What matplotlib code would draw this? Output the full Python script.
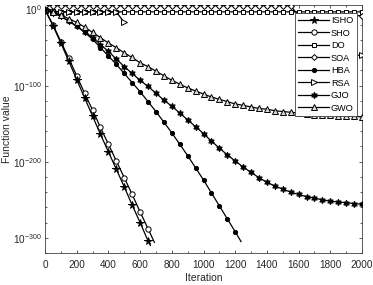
import numpy as np
import matplotlib
matplotlib.use("Agg")
import matplotlib.pyplot as plt

plt.rcParams['font.family'] = ['Liberation Sans', 'DejaVu Sans']
plt.rcParams['mathtext.fontset'] = 'custom'
plt.rcParams['mathtext.rm'] = 'Liberation Sans'
plt.rcParams['mathtext.it'] = 'Liberation Sans:italic'
plt.rcParams['mathtext.bf'] = 'Liberation Sans:bold'

# iterations (every 50) and log10 of the function value
it50 = list(range(0, 2001, 50))

isho_it = list(range(0, 651, 50)) + [665]
isho_exp = [0, -21, -44, -68, -92, -116, -140, -164, -187, -210, -233, -257, -280, -304, -310]

sho_it = list(range(0, 651, 50)) + [690]
sho_exp = [0, -20, -42, -64, -87, -110, -132, -155, -177, -199, -221, -243, -266, -288, -306]

hba_it = list(range(0, 1201, 50)) + [1237]
hba_exp = [0, -4, -9, -15, -22, -30, -39, -50, -61, -72, -84, -96, -108, -121, -134,
           -148, -162, -177, -192, -208, -224, -241, -258, -275, -292, -305]

gjo_exp = [0, -4, -9, -15, -22, -29, -37, -46, -55, -65, -75, -84, -93, -101, -110,
           -119, -127, -136, -145, -154, -163, -173, -182, -191, -199, -207, -214, -221,
           -227, -232, -236, -240, -243, -246, -248, -250, -252, -253, -254, -255, -256]

gwo_exp = [0, -3, -7, -12, -17, -23, -30, -37, -44, -50, -57, -63, -70, -75, -81,
           -87, -93, -98, -103, -107, -111, -115, -118, -121, -124, -126, -128, -130,
           -131, -133, -134, -135, -136, -137, -138, -138.5, -139, -139.5, -140, -140.5, -141]

soa_exp = [5] * 32 + [-8] * 9
do_exp = [3, -2] + [-3] * 39
rsa_exp = [-3] * 10 + [-17] + [np.nan] * 27 + [-60, -60, -60]

labels = ['ISHO', 'SHO', 'DO', 'SOA', 'HBA', 'RSA', 'GJO', 'GWO']

fig = plt.figure(figsize=(3.73, 2.85), dpi=100)
ax = fig.add_axes([45/373, 32/285, 317/373, 248/285])

def pw(e):
    return 10.0 ** np.asarray(e, dtype=float)

lw = 0.9
mew = 0.7
ax.semilogy(isho_it, pw(isho_exp), '-', color='k', lw=lw, marker='*', ms=5.5, mfc='k', mec='k', mew=mew,
            markevery=list(range(len(isho_it) - 1)), label=labels[0], zorder=5)
ax.semilogy(sho_it, pw(sho_exp), '-', color='k', lw=lw, marker='o', ms=3.8, mfc='white', mec='k', mew=mew,
            markevery=list(range(len(sho_it) - 1)), label=labels[1], zorder=4)
ax.semilogy(it50, pw(do_exp), '-', color='k', lw=lw, marker='s', ms=3.3, mfc='white', mec='k', mew=mew,
            label=labels[2], zorder=3)
ax.semilogy(it50, pw(soa_exp), '-', color='k', lw=lw, marker='D', ms=3.0, mfc='white', mec='k', mew=mew,
            label=labels[3], zorder=3)
ax.semilogy(hba_it, pw(hba_exp), '-', color='k', lw=lw, marker='o', ms=3.0, mfc='k', mec='k', mew=mew,
            markevery=list(range(len(hba_it) - 1)), label=labels[4], zorder=3)
ax.semilogy(it50, pw(rsa_exp), '-', color='k', lw=lw, marker='>', ms=4.2, mfc='white', mec='k', mew=mew,
            label=labels[5], zorder=3)
ax.semilogy(it50, pw(gjo_exp), '-', color='k', lw=lw, marker=(6, 1, 0), ms=4.6, mfc='k', mec='k', mew=mew,
            label=labels[6], zorder=3)
ax.semilogy(it50, pw(gwo_exp), '-', color='k', lw=lw, marker='^', ms=4.2, mfc='#d9d9d9', mec='k', mew=mew,
            label=labels[7], zorder=3)

ax.set_xlim(0, 2000)
ax.set_ylim(1e-320, 1e6)
ax.set_xticks(range(0, 2001, 200))
ax.set_xticklabels([str(v) for v in range(0, 2001, 200)])
major = [0, -100, -200, -300]
ax.set_yticks([10.0 ** e for e in major])
ax.set_yticklabels(['$\\mathregular{10^{%d}}$' % e for e in major])
ax.set_yticks([10.0 ** e for e in range(-320, 1, 20) if e not in major], minor=True)
ax.set_yticklabels([], minor=True)
ax.set_xticks(range(0, 2001, 100), minor=True)
ax.tick_params(axis='both', which='both', direction='in', top=True, right=True,
               labelsize=7.2, labelcolor='#262626', color='#404040', length=2.5, width=0.6)
ax.tick_params(axis='both', which='minor', length=1.5)
ax.tick_params(axis='y', pad=2)
ax.tick_params(axis='x', pad=5)
for s in ax.spines.values():
    s.set_color('#404040')
    s.set_linewidth(0.6)

ax.set_xlabel('Iteration', fontsize=7.5, color='#262626')
ax.xaxis.set_label_coords(0.5, -0.08)
ax.set_ylabel('Function value', fontsize=7.5, color='#262626')
ax.yaxis.set_label_coords(-0.105, 0.5)

leg = ax.legend(loc='upper right', bbox_to_anchor=(0.984, 0.968), fontsize=6.6,
                frameon=True, fancybox=False, edgecolor='#404040', framealpha=1,
                handlelength=3.3, handletextpad=0.25, borderpad=0.35, labelspacing=0.38,
                borderaxespad=0)
leg.get_frame().set_linewidth(0.6)

fig.savefig('out.png', dpi=100)
